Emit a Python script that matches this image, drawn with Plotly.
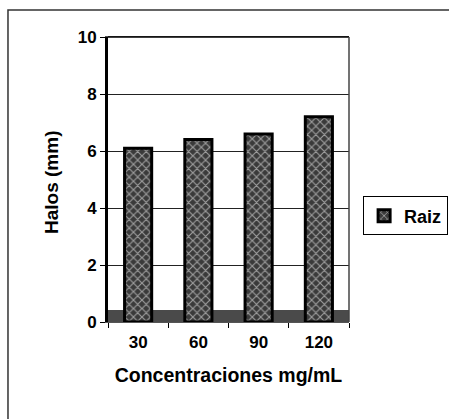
import plotly.graph_objects as go

categories = ["30", "60", "90", "120"]
raiz = [6.1, 6.4, 6.6, 7.2]
y_ticks = [0, 2, 4, 6, 8, 10]
y_title = "Halos (mm)"
x_title = "Concentraciones mg/mL"

FONT = "Liberation Sans"

fig = go.Figure()
fig.add_trace(go.Bar(
    x=categories, y=raiz, name="Raiz",
    width=0.45,
    marker=dict(
        color="#3a3a3a",
        line=dict(color="black", width=3),
        pattern=dict(shape="x", fgcolor="white", bgcolor="#3a3a3a", size=6, solidity=0.35),
    ),
))

fig.update_layout(
    width=449, height=419,
    margin=dict(l=108, r=100, t=37, b=97),
    paper_bgcolor="white", plot_bgcolor="white",
    font=dict(family=FONT, size=17, color="black", weight="bold"),
    showlegend=True,
    legend=dict(
        xref="container", yref="container",
        x=0.998, y=0.4845, xanchor="right", yanchor="middle",
        bordercolor="black", borderwidth=1, bgcolor="white",
        font=dict(family=FONT, size=18, color="black", weight="bold"),
        itemwidth=30, tracegroupgap=0,
    ),
    xaxis=dict(
        title=dict(text=x_title, font=dict(size=19.5, weight="bold"), standoff=16),
        tickfont=dict(size=17, family=FONT, weight="bold"),
        ticklabelstandoff=5,
        showline=True, linecolor="#555", linewidth=1, mirror=True,
        ticks="outside", tickson="boundaries", ticklen=5, tickcolor="black",
        showgrid=False,
    ),
    yaxis=dict(
        tickfont=dict(size=17, family=FONT, weight="bold"),
        range=[0, 10], tickvals=y_ticks,
        showline=True, linecolor="black", linewidth=3, mirror=False,
        ticks="outside", ticklen=5, tickcolor="black",
        showgrid=True, gridcolor="#222", gridwidth=1,
        zeroline=False,
    ),
    annotations=[
        dict(text=y_title, xref="paper", yref="paper", x=-0.232, y=0.488,
             xanchor="center", yanchor="middle", textangle=-90, showarrow=False,
             font=dict(family=FONT, size=19, color="black", weight="bold")),
    ],
    shapes=[
        # chart frame (cropped at right/bottom)
        dict(type="rect", xref="paper", yref="paper", x0=-0.415, x1=1.45, y0=-0.5, y1=1.095,
             line=dict(color="#333", width=1.5), layer="below"),
        # plot top / right border
        dict(type="line", xref="paper", yref="paper", x0=0, x1=1, y0=1, y1=1,
             line=dict(color="black", width=1.5)),
        dict(type="line", xref="paper", yref="paper", x0=1, x1=1, y0=0, y1=1,
             line=dict(color="#444", width=1.5)),
        # dark floor
        dict(type="rect", xref="paper", yref="paper", x0=0, x1=1, y0=0, y1=0.042,
             fillcolor="#4a4a4a", line=dict(width=0), layer="below"),
    ],
)

fig.write_html("out.html")
